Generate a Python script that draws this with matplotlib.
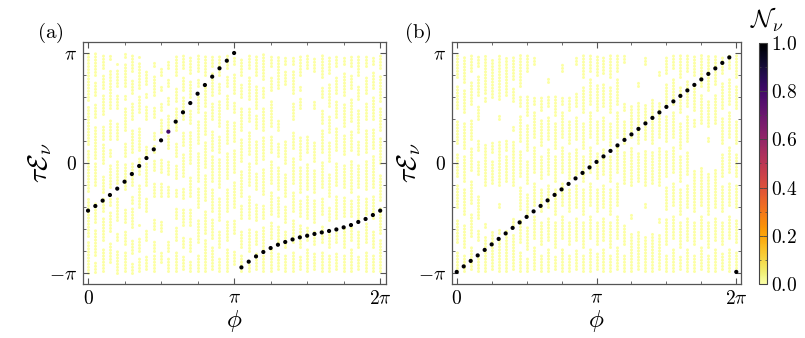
import numpy as np
import matplotlib
matplotlib.use('Agg')
import matplotlib.pyplot as plt
from matplotlib.colors import Normalize
from matplotlib.cm import ScalarMappable
from matplotlib.ticker import FixedLocator, MultipleLocator

plt.rcParams['mathtext.fontset'] = 'cm'
plt.rcParams['font.family'] = 'serif'
plt.rcParams['font.serif'] = ['DejaVu Serif']

# phase grid (units of pi)
phi_pi = [0.00, 0.05, 0.10, 0.15, 0.20, 0.25, 0.30, 0.35, 0.40, 0.45,
          0.50, 0.55, 0.60, 0.65, 0.70, 0.75, 0.80, 0.85, 0.90, 0.95,
          1.00, 1.05, 1.10, 1.15, 1.20, 1.25, 1.30, 1.35, 1.40, 1.45,
          1.50, 1.55, 1.60, 1.65, 1.70, 1.75, 1.80, 1.85, 1.90, 1.95, 2.00]

# edge-state quasienergies (units of pi) and weights
edge_a_lo = [-0.433, -0.391, -0.342, -0.291, -0.233, -0.170, -0.100, -0.027, 0.045, 0.124,
             0.206, 0.285, 0.376, 0.461, 0.545, 0.630, 0.709, 0.785, 0.861, 0.930, 1.000]
edge_a_hi = [-0.949, -0.897, -0.849, -0.809, -0.773, -0.743, -0.718, -0.695, -0.676, -0.661,
             -0.645, -0.631, -0.618, -0.604, -0.585, -0.564, -0.536, -0.509, -0.473, -0.433]
edge_a_N_lo = [1.0]*11 + [0.8] + [1.0]*9
edge_a_N_hi = [1.0]*20

edge_b = [-0.99, -0.94, -0.89, -0.84, -0.79, -0.74, -0.69, -0.64, -0.59, -0.54,
          -0.49, -0.44, -0.39, -0.34, -0.29, -0.24, -0.19, -0.14, -0.09, -0.04,
          0.01, 0.06, 0.11, 0.16, 0.21, 0.26, 0.31, 0.36, 0.41, 0.46,
          0.51, 0.56, 0.61, 0.66, 0.71, 0.76, 0.81, 0.86, 0.91, 0.96, -0.99]
edge_b_N = [1.0]*41

# bulk bands per phi column: (low, high) in units of pi
bulk_a = [
    [(-1.0,-0.72),(-0.66,-0.30),(-0.25,0.12),(0.17,0.52),(0.57,1.0)],
    [(-0.99,-0.88),(-0.84,-0.60),(-0.54,-0.36),(-0.20,0.0),(0.05,0.35),(0.42,0.55),(0.62,0.75),(0.80,1.0)],
    [(-0.98,-0.78),(-0.70,-0.50),(-0.44,-0.32),(-0.26,-0.12),(0.0,0.18),(0.22,0.35),(0.45,0.62),(0.68,0.80),(0.86,0.98)],
    [(-0.90,-0.72),(-0.62,-0.44),(-0.38,-0.30),(-0.22,0.0),(0.06,0.14),(0.22,0.40),(0.50,0.85),(0.95,0.98)],
    [(-1.0,-0.78),(-0.70,-0.64),(-0.52,-0.30),(-0.18,0.02),(0.22,0.38),(0.50,0.62),(0.70,0.86),(0.90,0.92)],
    [(-0.98,-0.80),(-0.74,-0.62),(-0.54,-0.40),(-0.24,0.0),(0.06,0.20),(0.30,0.50),(0.58,0.64),(0.70,0.92),(0.96,1.0)],
    [(-1.0,-0.90),(-0.82,-0.70),(-0.58,-0.40),(-0.36,-0.28),(-0.20,0.0),(0.10,0.30),(0.40,0.56),(0.64,0.76),(0.84,1.0)],
    [(-0.98,-0.86),(-0.80,-0.66),(-0.56,-0.54),(-0.40,-0.18),(-0.10,0.06),(0.12,0.32),(0.46,0.62),(0.68,0.92),(0.96,0.98)],
    [(-0.96,-0.84),(-0.70,-0.60),(-0.44,-0.30),(-0.20,0.0),(0.06,0.16),(0.40,0.52),(0.60,0.64),(0.72,0.84)],
    [(-0.98,-0.84),(-0.80,-0.70),(-0.60,-0.50),(-0.30,-0.16),(-0.06,0.04),(0.10,0.16),(0.22,0.30),(0.42,0.52),(0.62,0.80),(0.88,0.94)],
    [(-0.90,-0.80),(-0.62,-0.52),(-0.30,-0.16),(-0.08,0.04),(0.28,0.40),(0.48,0.56),(0.66,0.72),(0.80,0.88)],
    [(-0.98,-0.86),(-0.80,-0.70),(-0.30,-0.20),(-0.10,0.04),(0.14,0.26),(0.32,0.44),(0.54,0.62),(0.70,0.76),(0.86,0.94)],
    [(-0.98,-0.80),(-0.70,-0.58),(-0.50,-0.40),(-0.30,-0.22),(-0.14,0.0),(0.06,0.20),(0.30,0.50),(0.56,0.70),(0.80,0.98)],
    [(-0.96,-0.84),(-0.76,-0.66),(-0.56,-0.42),(-0.32,-0.22),(-0.12,0.10),(0.16,0.30),(0.40,0.60),(0.66,0.80),(0.86,0.98)],
    [(-0.98,-0.88),(-0.80,-0.66),(-0.56,-0.40),(-0.30,-0.12),(0.0,0.30),(0.36,0.50),(0.60,0.76),(0.82,0.98)],
    [(-0.98,-0.82),(-0.72,-0.50),(-0.40,-0.22),(-0.16,0.10),(0.18,0.40),(0.46,0.62),(0.70,0.78),(0.84,0.98)],
    [(-0.98,-0.70),(-0.64,-0.42),(-0.34,-0.10),(-0.04,0.20),(0.26,0.46),(0.52,0.72),(0.80,0.98)],
    [(-0.96,-0.76),(-0.68,-0.50),(-0.44,-0.24),(-0.16,0.06),(0.12,0.30),(0.40,0.56),(0.62,0.82),(0.88,0.98)],
    [(-0.98,-0.86),(-0.76,-0.60),(-0.52,-0.30),(-0.22,0.04),(0.10,0.26),(0.34,0.58),(0.64,0.74),(0.80,0.98)],
    [(-0.98,-0.78),(-0.70,-0.52),(-0.44,-0.24),(-0.14,0.10),(0.18,0.40),(0.50,0.64),(0.70,0.80),(0.86,0.98)],
    [(-0.92,-0.78),(-0.64,-0.52),(-0.40,-0.16),(-0.08,0.12),(0.20,0.38),(0.46,0.56),(0.64,0.82),(0.90,0.98)],
    [(-0.98,-0.84),(-0.76,-0.62),(-0.50,-0.38),(-0.30,-0.06),(0.02,0.22),(0.30,0.50),(0.60,0.72),(0.80,0.96)],
    [(-0.98,-0.90),(-0.80,-0.58),(-0.50,-0.30),(-0.20,0.0),(0.08,0.30),(0.38,0.52),(0.58,0.80),(0.86,0.98)],
    [(-0.96,-0.82),(-0.74,-0.60),(-0.52,-0.36),(-0.24,-0.08),(0.0,0.22),(0.32,0.44),(0.50,0.72),(0.80,0.98)],
    [(-0.98,-0.84),(-0.78,-0.58),(-0.50,-0.36),(-0.28,-0.04),(0.04,0.24),(0.30,0.52),(0.60,0.70),(0.76,1.0)],
    [(-0.98,-0.76),(-0.68,-0.54),(-0.46,-0.26),(-0.18,0.02),(0.10,0.26),(0.34,0.58),(0.66,0.80),(0.88,0.98)],
    [(-0.96,-0.80),(-0.72,-0.56),(-0.48,-0.30),(-0.24,-0.02),(0.06,0.20),(0.30,0.40),(0.68,0.98)],
    [(-0.98,-0.82),(-0.76,-0.60),(-0.54,-0.38),(-0.30,-0.08),(0.0,0.20),(0.72,0.84),(0.90,0.98)],
    [(-0.98,-0.80),(-0.72,-0.52),(-0.44,-0.26),(-0.18,0.06),(0.14,0.30),(0.40,0.56),(0.64,0.84),(0.90,0.98)],
    [(-0.96,-0.84),(-0.76,-0.56),(-0.48,-0.34),(-0.26,-0.04),(0.04,0.24),(0.50,0.60),(0.66,0.72),(0.80,0.98)],
    [(-0.98,-0.78),(-0.70,-0.58),(-0.50,-0.30),(-0.24,0.0),(0.10,0.26),(0.86,0.98)],
    [(-0.96,-0.82),(-0.74,-0.60),(-0.54,-0.34),(-0.26,-0.06),(0.02,0.20),(0.50,0.56),(0.84,0.96)],
    [(-0.98,-0.80),(-0.72,-0.56),(-0.46,-0.30),(-0.22,0.02),(0.10,0.30),(0.36,0.48),(0.60,0.70),(0.78,0.98)],
    [(-0.98,-0.84),(-0.76,-0.60),(-0.52,-0.38),(-0.30,-0.08),(0.02,0.20),(0.28,0.44),(0.52,0.74),(0.82,0.98)],
    [(-0.96,-0.80),(-0.72,-0.60),(-0.50,-0.30),(-0.20,0.02),(0.12,0.34),(0.42,0.56),(0.64,0.80),(0.88,0.98)],
    [(-0.98,-0.84),(-0.76,-0.58),(-0.48,-0.30),(-0.22,-0.02),(0.08,0.26),(0.34,0.54),(0.62,0.84),(0.90,0.98)],
    [(-0.98,-0.78),(-0.70,-0.56),(-0.48,-0.34),(-0.26,0.04),(0.12,0.30),(0.38,0.60),(0.68,0.82),(0.88,0.98)],
    [(-0.96,-0.84),(-0.76,-0.60),(-0.50,-0.30),(-0.22,0.0),(0.08,0.20),(0.28,0.50),(0.58,0.72),(0.80,0.98)],
    [(-0.98,-0.80),(-0.72,-0.54),(-0.46,-0.32),(-0.24,0.02),(0.10,0.30),(0.40,0.56),(0.64,0.80),(0.88,0.98)],
    [(-0.98,-0.84),(-0.76,-0.60),(-0.50,-0.30),(-0.22,0.06),(0.14,0.32),(0.40,0.60),(0.68,0.84),(0.90,0.98)],
    [(-0.98,-0.70),(-0.64,-0.40),(-0.34,-0.10),(0.0,0.24),(0.30,0.50),(0.56,0.80),(0.86,0.98)],
]

bulk_b = [
    [(-0.98,-0.80),(-0.72,-0.50),(-0.40,-0.20),(-0.12,0.10),(0.18,0.40),(0.50,0.70),(0.78,1.0)],
    [(-0.98,-0.84),(-0.76,-0.56),(-0.46,-0.24),(-0.16,0.06),(0.14,0.36),(0.46,0.66),(0.74,0.98)],
    [(-0.96,-0.76),(-0.66,-0.46),(-0.36,-0.16),(-0.06,0.14),(0.22,0.40),(0.54,0.74),(0.84,0.98)],
    [(-0.98,-0.82),(-0.70,-0.60),(-0.50,-0.28),(-0.10,0.04),(0.12,0.22),(0.40,0.52),(0.62,0.80),(0.88,0.98)],
    [(-0.98,-0.66),(-0.58,-0.54),(-0.20,0.18),(0.56,0.60),(0.64,0.98)],
    [(-0.96,-0.62),(-0.18,0.04),(0.10,0.20),(0.60,0.96)],
    [(-0.98,-0.70),(-0.64,-0.58),(-0.40,-0.36),(-0.20,0.20),(0.40,0.44),(0.58,0.98)],
    [(-0.98,-0.60),(-0.16,0.06),(0.12,0.22),(0.62,0.96)],
    [(-0.96,-0.64),(-0.56,-0.50),(-0.20,0.20),(0.30,0.34),(0.56,0.70),(0.76,0.98)],
    [(-0.98,-0.80),(-0.72,-0.50),(-0.42,-0.20),(-0.12,0.12),(0.20,0.44),(0.52,0.62),(0.70,0.98)],
    [(-0.98,-0.86),(-0.78,-0.56),(-0.48,-0.26),(-0.18,0.04),(0.12,0.36),(0.44,0.62),(0.84,0.98)],
    [(-0.96,-0.76),(-0.68,-0.46),(-0.38,-0.16),(-0.08,0.16),(0.24,0.46),(0.54,0.62),(0.90,0.98)],
    [(-0.98,-0.82),(-0.74,-0.52),(-0.44,-0.22),(-0.14,0.08),(0.16,0.40),(0.48,0.62)],
    [(-0.98,-0.78),(-0.70,-0.48),(-0.40,-0.18),(-0.10,0.14),(0.22,0.44),(0.52,0.62),(0.74,0.78)],
    [(-0.96,-0.84),(-0.76,-0.54),(-0.46,-0.24),(-0.16,0.06),(0.14,0.36),(0.44,0.62)],
    [(-0.98,-0.76),(-0.68,-0.46),(-0.38,-0.16),(-0.08,0.16),(0.24,0.46),(0.54,0.62),(0.84,0.90)],
    [(-0.98,-0.82),(-0.74,-0.52),(-0.44,-0.22),(-0.14,0.10),(0.18,0.40),(0.48,0.62)],
    [(-0.96,-0.78),(-0.70,-0.48),(-0.40,-0.18),(-0.10,0.14),(0.22,0.44),(0.52,0.64),(0.90,0.98)],
    [(-0.98,-0.84),(-0.76,-0.54),(-0.46,-0.24),(-0.16,0.06),(0.14,0.38),(0.46,0.70),(0.78,0.98)],
    [(-0.98,-0.76),(-0.68,-0.46),(-0.38,-0.16),(-0.08,0.16),(0.24,0.46),(0.54,0.76),(0.84,0.98)],
    [(-0.96,-0.82),(-0.74,-0.52),(-0.44,-0.22),(-0.14,0.10),(0.18,0.40),(0.48,0.72),(0.80,0.98)],
    [(-0.98,-0.78),(-0.70,-0.48),(-0.40,-0.18),(-0.10,0.14),(0.22,0.44),(0.52,0.74),(0.82,0.98)],
    [(-0.98,-0.84),(-0.76,-0.54),(-0.46,-0.24),(-0.16,0.08),(0.16,0.38),(0.46,0.70),(0.78,0.98)],
    [(-0.96,-0.76),(-0.68,-0.46),(-0.38,-0.16),(-0.08,0.16),(0.24,0.46),(0.54,0.76),(0.84,0.98)],
    [(-0.98,-0.82),(-0.74,-0.56),(-0.18,0.10),(0.18,0.40),(0.48,0.56),(0.92,0.98)],
    [(-0.98,-0.64),(-0.50,-0.46),(-0.20,0.16),(0.24,0.54)],
    [(-0.96,-0.62),(-0.16,0.10),(0.18,0.56),(0.70,0.74)],
    [(-0.98,-0.66),(-0.40,-0.36),(-0.20,0.14),(0.22,0.54),(0.90,0.98)],
    [(-0.98,-0.62),(-0.18,0.10),(0.18,0.58)],
    [(-0.96,-0.64),(-0.54,-0.50),(-0.20,0.16),(0.24,0.56),(0.80,0.84)],
    [(-0.98,-0.82),(-0.74,-0.50),(-0.42,-0.20),(-0.12,0.12),(0.20,0.44),(0.52,0.74),(0.82,0.98)],
    [(-0.98,-0.76),(-0.68,-0.46),(-0.38,-0.16),(-0.08,0.16),(0.24,0.46),(0.54,0.78),(0.86,0.98)],
    [(-0.96,-0.84),(-0.76,-0.54),(-0.46,-0.24),(-0.16,0.06),(0.14,0.38),(0.46,0.70),(0.78,0.98)],
    [(-0.98,-0.78),(-0.70,-0.48),(-0.40,-0.18),(-0.10,0.12),(0.20,0.44),(0.52,0.76),(0.84,0.98)],
    [(-0.98,-0.82),(-0.74,-0.52),(-0.44,-0.06),(0.34,0.40),(0.48,0.72),(0.80,0.98)],
    [(-0.96,-0.76),(-0.68,-0.46),(-0.38,-0.04),(0.36,0.62),(0.70,0.98)],
    [(-0.98,-0.84),(-0.76,-0.54),(-0.46,-0.08),(0.20,0.24),(0.34,0.58),(0.66,0.98)],
    [(-0.98,-0.78),(-0.70,-0.48),(-0.40,-0.04),(0.36,0.64),(0.72,0.98)],
    [(-0.96,-0.82),(-0.74,-0.52),(-0.44,-0.20),(-0.12,0.10),(0.18,0.42),(0.50,0.74),(0.82,0.98)],
    [(-0.98,-0.76),(-0.68,-0.46),(-0.38,-0.16),(-0.08,0.16),(0.24,0.46),(0.54,0.78),(0.86,0.98)],
    [(-0.98,-0.80),(-0.72,-0.50),(-0.40,-0.20),(-0.12,0.10),(0.18,0.40),(0.50,0.70),(0.78,1.0)],
]
bulk_N = 0.0

cmap = plt.get_cmap('inferno_r')
norm = Normalize(0, 1)
PI = np.pi

fig = plt.figure(figsize=(8.05, 3.38), dpi=100)
ax_a = fig.add_axes([83/805, 54/338, 303/805, 242/338])
ax_b = fig.add_axes([452/805, 54/338, 289/805, 242/338])
cax = fig.add_axes([759/805, 54/338, 8/805, 241/338])

frame_col = '#555555'

def draw_bulk(ax, bulk):
    xs, lo, hi = [], [], []
    for k, segs in enumerate(bulk):
        for a, b in segs:
            xs.append(phi_pi[k] * PI)
            lo.append(a * PI)
            hi.append(b * PI)
    ax.vlines(xs, lo, hi, colors=[cmap(norm(bulk_N))], linewidth=2.2,
              linestyles=[(0, (0.01, 1.0))], capstyle='round', zorder=1)

def style(ax, xlim):
    ax.set_xlim(*xlim)
    ax.set_ylim(-1.1 * PI, 1.1 * PI)
    ax.xaxis.set_major_locator(FixedLocator([0, PI, 2 * PI]))
    ax.xaxis.set_minor_locator(MultipleLocator(PI / 4))
    ax.yaxis.set_major_locator(FixedLocator([-PI, 0, PI]))
    ax.yaxis.set_minor_locator(FixedLocator([i * 0.2 * PI for i in range(-5, 6)]))
    ax.set_xticklabels([r'$0$', r'$\pi$', r'$2\pi$'], fontsize=14)
    ax.set_yticklabels([r'$-\pi$', r'$0$', r'$\pi$'], fontsize=14)
    ax.tick_params(which='both', direction='in', top=True, right=True, color=frame_col)
    ax.tick_params(which='major', length=4, width=0.8, pad=4)
    ax.tick_params(which='minor', length=2.2, width=0.6)
    for s in ax.spines.values():
        s.set_color(frame_col)
        s.set_linewidth(0.9)
    ax.set_xlabel(r'$\phi$', fontsize=18, labelpad=0)
    ax.set_ylabel(r'$\tau\mathcal{E}_\nu$', fontsize=20, labelpad=-3)

# panel (a)
draw_bulk(ax_a, bulk_a)
ax_a.scatter([p * PI for p in phi_pi[:21]], [e * PI for e in edge_a_lo], c=edge_a_N_lo,
             cmap=cmap, norm=norm, s=9, linewidths=0, zorder=3)
ax_a.scatter([p * PI for p in phi_pi[21:]], [e * PI for e in edge_a_hi], c=edge_a_N_hi,
             cmap=cmap, norm=norm, s=9, linewidths=0, zorder=3)
style(ax_a, (-0.108, 2 * PI + 0.125))

# panel (b)
draw_bulk(ax_b, bulk_b)
ax_b.scatter([p * PI for p in phi_pi], [e * PI for e in edge_b], c=edge_b_N,
             cmap=cmap, norm=norm, s=9, linewidths=0, zorder=3)
style(ax_b, (-0.106, 2 * PI + 0.106))

fig.text(50/805, 1 - 33/338, r'$(\mathrm{a})$', fontsize=15, ha='center', va='center')
fig.text(418/805, 1 - 33/338, r'$(\mathrm{b})$', fontsize=15, ha='center', va='center')

# colorbar
cb = fig.colorbar(ScalarMappable(norm=norm, cmap=cmap), cax=cax)
cb.set_ticks([0, 0.2, 0.4, 0.6, 0.8, 1.0])
cb.set_ticklabels([r'$0.0$', r'$0.2$', r'$0.4$', r'$0.6$', r'$0.8$', r'$1.0$'], fontsize=14)
cb.ax.yaxis.set_minor_locator(MultipleLocator(0.1))
cb.ax.tick_params(which='both', direction='in', left=True, right=True, color='#444444')
cb.ax.tick_params(which='major', length=3, width=0.6, pad=3)
cb.ax.tick_params(which='minor', length=1.5, width=0.5)
cb.outline.set_edgecolor('#444444')
cb.outline.set_linewidth(0.8)
fig.text(767/805, 1 - 20/338, r'$\mathcal{N}_\nu$', fontsize=18, ha='center', va='center')

fig.savefig('out.png', dpi=100)
